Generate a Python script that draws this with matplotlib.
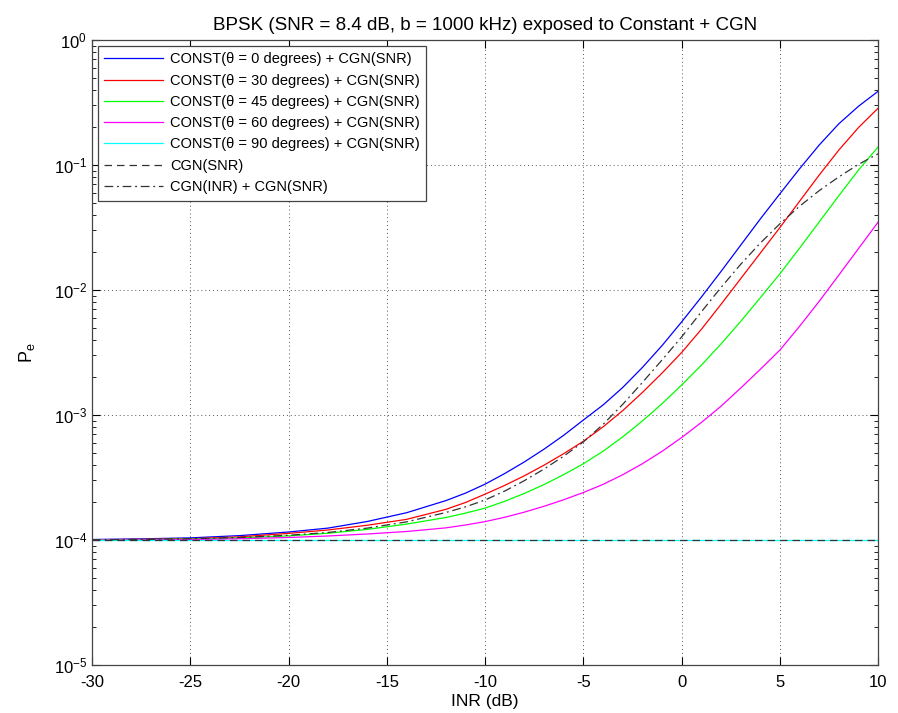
import numpy as np
import matplotlib
matplotlib.use("Agg")
import matplotlib.pyplot as plt
from matplotlib.ticker import LogLocator, NullFormatter

plt.rcParams['font.family'] = ['Liberation Sans', 'DejaVu Sans']
plt.rcParams['mathtext.fontset'] = 'custom'
plt.rcParams['mathtext.rm'] = 'Liberation Sans'
plt.rcParams['mathtext.it'] = 'Liberation Sans'
plt.rcParams['axes.unicode_minus'] = False

# INR (dB) sample points
inr = [-30, -27.5, -25, -22.5, -20, -18, -16, -14, -12, -11, -10, -9, -8, -7, -6, -5,
       -4, -3, -2, -1, 0, 1, 2, 3, 4, 5, 6, 7, 8, 9, 10]

# log10(Pe)
log_const_0 = [-3.996, -3.991, -3.983, -3.965, -3.936, -3.905, -3.852, -3.782, -3.685, -3.625,
               -3.553, -3.468, -3.375, -3.273, -3.162, -3.040, -2.92, -2.78, -2.62, -2.445,
               -2.255, -2.057, -1.852, -1.642, -1.432, -1.23, -1.03, -0.84, -0.67, -0.53, -0.41]
log_const_30 = [-3.998, -3.995, -3.99, -3.975, -3.947, -3.92, -3.882, -3.835, -3.755, -3.70,
                -3.633, -3.563, -3.486, -3.401, -3.309, -3.21, -3.095, -2.965, -2.82, -2.665,
                -2.50, -2.315, -2.115, -1.91, -1.705, -1.50, -1.29, -1.08, -0.88, -0.70, -0.545]
log_const_45 = [-3.999, -3.997, -3.993, -3.984, -3.967, -3.946, -3.915, -3.873, -3.82, -3.785,
                -3.745, -3.69, -3.627, -3.556, -3.477, -3.39, -3.29, -3.175, -3.048, -2.91,
                -2.76, -2.602, -2.432, -2.252, -2.062, -1.87, -1.665, -1.455, -1.245, -1.04, -0.855]
log_const_60 = [-4.0, -3.999, -3.997, -3.99, -3.98, -3.968, -3.952, -3.932, -3.903, -3.88,
                -3.853, -3.818, -3.777, -3.73, -3.678, -3.62, -3.555, -3.478, -3.39, -3.291,
                -3.18, -3.06, -2.93, -2.785, -2.635, -2.48, -2.29, -2.09, -1.88, -1.668, -1.456]
log_const_90 = [-4.0] * len(inr)
log_cgn_snr = [-4.0] * len(inr)
log_cgn_inr = [-3.998, -3.996, -3.99, -3.98, -3.962, -3.94, -3.905, -3.855, -3.78, -3.735,
               -3.68, -3.608, -3.525, -3.432, -3.329, -3.215, -3.075, -2.915, -2.74, -2.56,
               -2.375, -2.175, -1.98, -1.795, -1.625, -1.47, -1.33, -1.205, -1.095, -0.995, -0.91]

labels = ["CONST(\u03b8 = 0 degrees) + CGN(SNR)",
          "CONST(\u03b8 = 30 degrees) + CGN(SNR)",
          "CONST(\u03b8 = 45 degrees) + CGN(SNR)",
          "CONST(\u03b8 = 60 degrees) + CGN(SNR)",
          "CONST(\u03b8 = 90 degrees) + CGN(SNR)",
          "CGN(SNR)",
          "CGN(INR) + CGN(SNR)"]

def pe(logs):
    return 10.0 ** np.array(logs)

fig = plt.figure(figsize=(8.98, 7.13), dpi=100)
ax = fig.add_axes([0.1025, 0.0673, 0.8755, 0.8767])

lw = 0.9
ax.semilogy(inr, pe(log_const_0), color='#0000ff', lw=lw, label=labels[0])
ax.semilogy(inr, pe(log_const_30), color='#ff0000', lw=lw, label=labels[1])
ax.semilogy(inr, pe(log_const_45), color='#00ff00', lw=lw, label=labels[2])
ax.semilogy(inr, pe(log_const_60), color='#ff00ff', lw=lw, label=labels[3])
ax.semilogy(inr, pe(log_const_90), color='#00ffff', lw=lw, label=labels[4])
ax.semilogy(inr, pe(log_cgn_snr), color='#333333', lw=lw, ls=(0, (6, 4)), label=labels[5])
ax.semilogy(inr, pe(log_cgn_inr), color='#333333', lw=lw, ls=(0, (7, 3, 1.5, 3)), label=labels[6])

ax.set_xlim(-30, 10)
ax.set_ylim(1e-5, 1e0)
ax.set_xticks(np.arange(-30, 11, 5))
ax.yaxis.set_major_locator(LogLocator(base=10, numticks=10))
ax.yaxis.set_minor_locator(LogLocator(base=10, subs=np.arange(2, 10), numticks=10))
ax.yaxis.set_minor_formatter(NullFormatter())

ax.grid(True, which='major', ls=(0, (1, 3)), color='#555555', lw=0.7)
ax.tick_params(which='both', direction='in', top=True, right=True, labelsize=12)
ax.tick_params(which='major', length=6, width=0.8)
ax.tick_params(axis='x', pad=7)
ax.tick_params(which='minor', length=3, width=0.6)
for s in ax.spines.values():
    s.set_color('#444444')
    s.set_linewidth(0.9)

ax.set_title("BPSK (SNR = 8.4 dB, b = 1000 kHz) exposed to Constant + CGN", fontsize=13.5, pad=7)
ax.set_xlabel("INR (dB)", fontsize=12.5, labelpad=3)
ax.set_ylabel("P$_\\mathregular{e}$", fontsize=13, labelpad=12)

leg = ax.legend(loc='upper left', fontsize=10.5, fancybox=False, framealpha=1,
                edgecolor='#444444', handlelength=4.0, handletextpad=0.5,
                borderaxespad=0.4, labelspacing=0.5, borderpad=0.45)
leg.get_frame().set_linewidth(0.9)

fig.savefig("out.png", dpi=100)
